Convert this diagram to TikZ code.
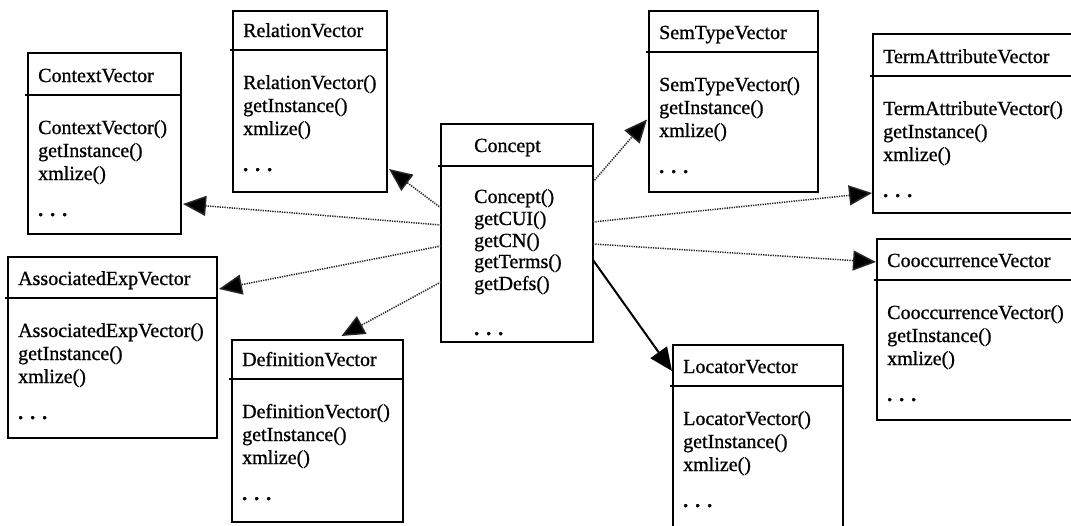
\documentclass[tikz,border=0pt]{standalone}
\usepackage{fontspec}
\setmainfont{Liberation Serif}
\newfontfamily\umlfont[FakeBold=0.9]{Liberation Serif}
\usetikzlibrary{arrows.meta}
\newcommand\threedots{\textbf{.\hspace{7pt}.\hspace{7pt}.}}
\tikzset{
  classbox/.style={draw=black, line width=2.4pt, inner sep=0pt, outer sep=0pt, fill=none},
  sepline/.style={line width=2.2pt},
  ttext/.style={inner sep=0pt, anchor=base west, font=\umlfont\fontsize{20}{22}\selectfont},
  mtext/.style={inner sep=0pt, anchor=base west, font=\umlfont\fontsize{20}{22}\selectfont},
  dep/.style={line width=1.5pt, draw=black!85, dash pattern=on 1.3pt off 1.1pt,
    -{Triangle[length=23pt,width=20pt,fill=black]}},
  assoc/.style={line width=2pt, draw=black, -{Triangle[length=23pt,width=20pt,fill=black]}}
}
% #1 name, #2 x, #3 y (top), #4 width, #5 height, #6 header line y, #7 title
\newcommand\vecclass[7]{%
  \node[classbox, minimum width=#4pt, minimum height=#5pt, anchor=north west] (#1) at (#2,#3) {};
  \draw[sepline] ([xshift=-3pt]#1.west |- 0,#6) -- (#1.east |- 0,#6);
  \node[ttext] (#1-t) at (#2+10,#6-13) {#7};
  \node[mtext] (#1-m1) at (#2+10,#6+39) {#7()};
  \node[mtext] (#1-m2) at (#2+10,#6+62) {getInstance()};
  \node[mtext] (#1-m3) at (#2+10,#6+85) {xmlize()};
  \node[mtext] (#1-d) at (#2+10,#6+121) {\threedots};
}
\begin{document}
\begin{tikzpicture}[x=1pt,y=-1pt]
\useasboundingbox (0,0) rectangle (1071,525);
\clip (0,0) rectangle (1071,525);

\vecclass{ctx}{28}{53}{153}{181}{95}{ContextVector}
\vecclass{rel}{233}{11}{154}{181}{50}{RelationVector}
\vecclass{sem}{649}{11}{169}{181}{52}{SemTypeVector}
\vecclass{term}{873}{34}{217}{179}{76}{TermAttributeVector}
\vecclass{cooc}{877}{239}{217}{181}{280}{CooccurrenceVector}
\vecclass{loc}{673}{345}{170}{215}{386}{LocatorVector}
\vecclass{asx}{8}{257}{209}{181}{298}{AssociatedExpVector}
\vecclass{def}{232}{340}{171}{182}{379}{DefinitionVector}

% Concept
\node[classbox, minimum width=152pt, minimum height=218pt, anchor=north west] (concept) at (441,124) {};
\draw[sepline] ([xshift=-3pt]concept.west |- 0,166) -- (concept.east |- 0,166);
\node[ttext] (c-t) at (474,152) {Concept};
\node[mtext] (c-m1) at (474,203) {Concept()};
\node[mtext] (c-m2) at (474,225) {getCUI()};
\node[mtext] (c-m3) at (474,247) {getCN()};
\node[mtext] (c-m4) at (474,268) {getTerms()};
\node[mtext] (c-m5) at (474,290) {getDefs()};
\node[mtext] (c-d) at (474,335) {\threedots};

% connectors (concept.west/east are at y = 233)
\draw[dep] ([shift={(0,-25)}]concept.west) -- ([shift={(2,-23)}]rel.south east);
\draw[dep] ([shift={(0,-8)}]concept.west) -- ([shift={(2,-30)}]ctx.south east);
\draw[dep] ([shift={(0,13)}]concept.west) -- ([shift={(2,32)}]asx.north east);
\draw[dep] ([shift={(0,49)}]concept.west) -- ([shift={(24,-4)}]def.north);
\draw[dep] ([shift={(0,-51)}]concept.east) -- ([shift={(-2,18)}]sem.west);
\draw[dep] ([shift={(0,-11)}]concept.east) -- ([shift={(-1,-20)}]term.south west);
\draw[dep] ([shift={(0,11)}]concept.east) -- ([shift={(-1,23)}]cooc.north west);
\draw[assoc] ([shift={(0,27)}]concept.east) -- ([shift={(-1,26)}]loc.north west);
\end{tikzpicture}
\end{document}
